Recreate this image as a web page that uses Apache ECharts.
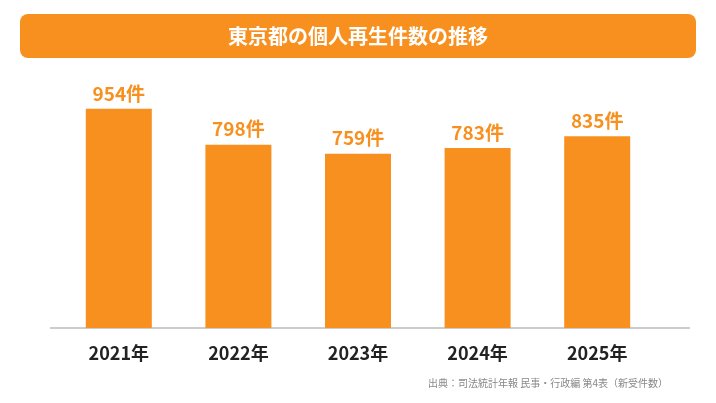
<!DOCTYPE html>
<html><head><meta charset="utf-8">
<script src="https://cdn.jsdelivr.net/npm/echarts@6/dist/echarts.min.js"></script>
<style>html,body{margin:0;padding:0;background:#fff}#c{width:716px;height:403px}</style>
</head><body><div id="c"></div>
<script>
const categories = ['2021年','2022年','2023年','2024年','2025年'];
const values = [954, 798, 759, 783, 835];
const titleText = '東京都の個人再生件数の推移';
const sourceText = '出典：司法統計年報 民事・行政編 第4表（新受件数）';
const orange = '#F7901E';
const font = '"Noto Sans CJK JP", sans-serif';
const chart = echarts.init(document.getElementById('c'));
chart.setOption({
  animation:false,
  grid:{left:59,right:59,top:90,bottom:75},
  graphic:[
    {type:'rect',shape:{x:20,y:14,width:676,height:44,r:8},style:{fill:orange}},
    {type:'text',x:358,y:36,style:{text:titleText,fill:'#fff',font:'bold 20px '+font,textAlign:'center',textVerticalAlign:'middle'}},
    {type:'line',shape:{x1:50,y1:328,x2:690,y2:328},style:{stroke:'#999',lineWidth:1}},
    {type:'text',x:668,y:383,style:{text:sourceText,fill:'#888',font:'10px '+font,textAlign:'right',textVerticalAlign:'middle'}}
  ],
  xAxis:{type:'category',data:categories,axisLine:{show:false},axisTick:{show:false},
    axisLabel:{color:'#222',fontWeight:'bold',fontSize:18,fontFamily:font,margin:16}},
  yAxis:{type:'value',min:0,max:1036,show:false,splitLine:{show:false}},
  series:[{type:'bar',data:values,barWidth:66,itemStyle:{color:orange},
    label:{show:true,position:'top',distance:6,formatter:p=>p.value+'件',color:orange,fontWeight:'bold',fontSize:19,fontFamily:font}}]
});
</script></body></html>
